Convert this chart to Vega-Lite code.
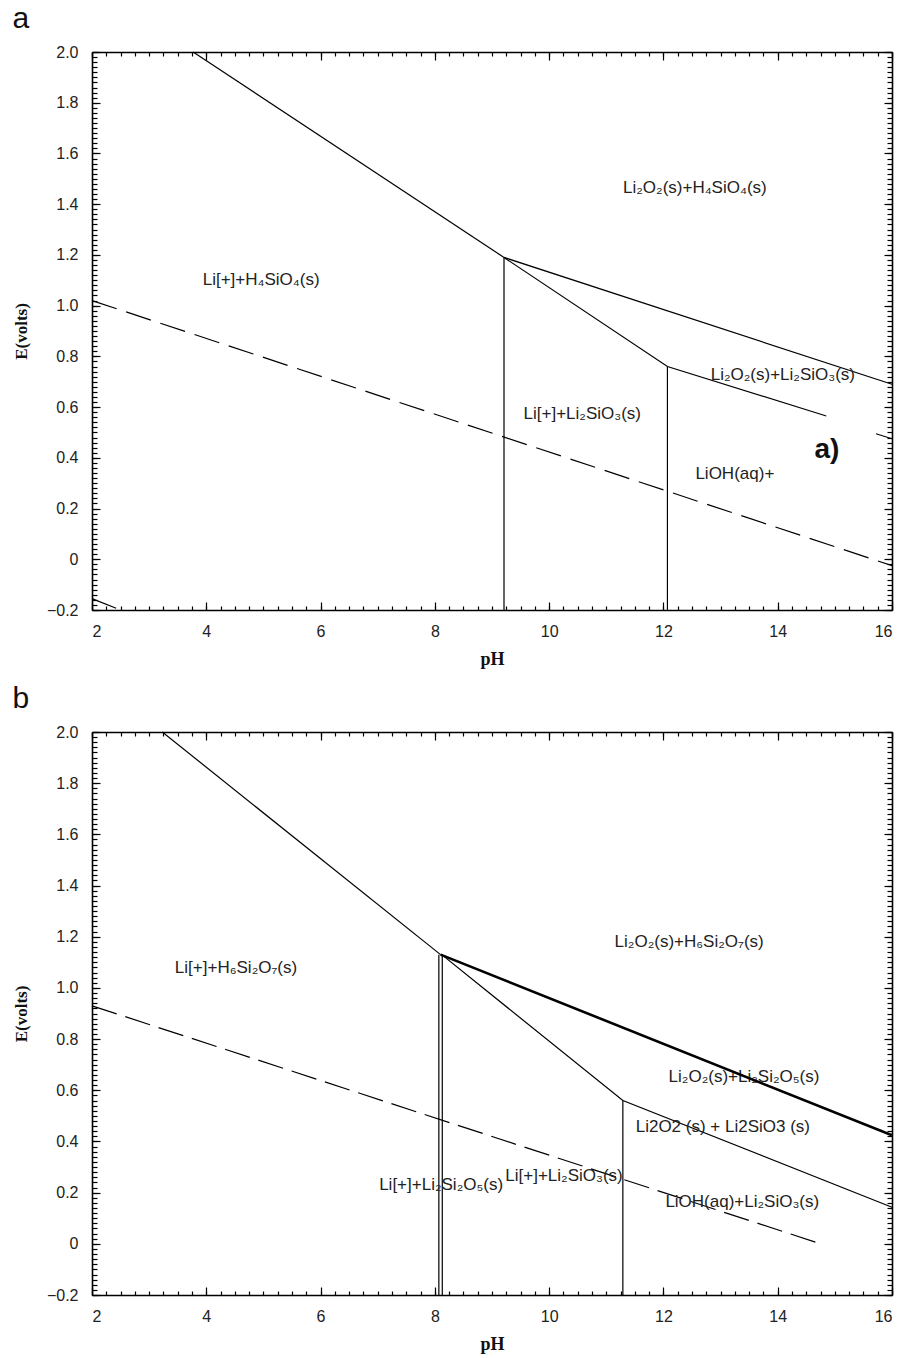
{
  "$schema": "https://vega.github.io/schema/vega-lite/v6.json",
  "background": "white",
  "padding": {"left": 12, "top": 4, "right": 8, "bottom": 4},
  "spacing": 16,
  "config": {
    "view": {"stroke": null},
    "axis": {"labelFont": "Liberation Sans", "labelFontSize": 16, "labelColor": "#222", "tickColor": "#000", "domainColor": "#000", "domainWidth": 1.6, "tickWidth": 1.2, "grid": false, "titleFont": "Liberation Serif", "titleFontWeight": "bold", "titleFontSize": 17, "titleColor": "#111"},
    "title": {"font": "Liberation Sans", "fontSize": 30, "fontWeight": "normal", "color": "#111", "anchor": "start", "frame": "bounds"}
  },
  "datasets": {
    "a_vert": [{"pH": 9.21, "E1": 1.19, "E2": -0.2}, {"pH": 12.07, "E1": 0.76, "E2": -0.2}],
    "a_solid": [
      {"seg": "s1", "pH": 3.77, "E": 2.0}, {"seg": "s1", "pH": 9.21, "E": 1.19},
      {"seg": "s2", "pH": 9.21, "E": 1.19}, {"seg": "s2", "pH": 16, "E": 0.69},
      {"seg": "s3", "pH": 9.21, "E": 1.19}, {"seg": "s3", "pH": 12.07, "E": 0.76}, {"seg": "s3", "pH": 14.85, "E": 0.565}
    ],
    "a_dash": [
      {"seg": "d1", "pH": 2, "E": 1.02}, {"seg": "d1", "pH": 16, "E": -0.025},
      {"seg": "d2", "pH": 2, "E": -0.155}, {"seg": "d2", "pH": 2.5, "E": -0.2},
      {"seg": "d3", "pH": 15.72, "E": 0.495}, {"seg": "d3", "pH": 16, "E": 0.475}
    ],
    "a_labels": [
      {"pH": 12.55, "E": 1.465, "label": "Li₂O₂(s)+H₄SiO₄(s)"},
      {"pH": 4.96, "E": 1.10, "label": "Li[+]+H₄SiO₄(s)"},
      {"pH": 14.09, "E": 0.726, "label": "Li₂O₂(s)+Li₂SiO₃(s)"},
      {"pH": 10.58, "E": 0.572, "label": "Li[+]+Li₂SiO₃(s)"},
      {"pH": 13.25, "E": 0.335, "label": "LiOH(aq)+"}
    ],
    "a_mark": [{"pH": 14.86, "E": 0.43, "label": "a)"}],
    "b_vert": [{"pH": 8.07, "E1": 1.13, "E2": -0.2}, {"pH": 8.13, "E1": 1.13, "E2": -0.2}, {"pH": 11.29, "E1": 0.56, "E2": -0.2}],
    "b_solid": [
      {"seg": "s1", "pH": 3.23, "E": 2.0}, {"seg": "s1", "pH": 8.1, "E": 1.13},
      {"seg": "s3", "pH": 8.12, "E": 1.13}, {"seg": "s3", "pH": 11.29, "E": 0.56}, {"seg": "s3", "pH": 16, "E": 0.143}
    ],
    "b_bold": [{"seg": "b1", "pH": 8.1, "E": 1.13}, {"seg": "b1", "pH": 16, "E": 0.424}],
    "b_dash": [{"seg": "d1", "pH": 2, "E": 0.93}, {"seg": "d1", "pH": 14.75, "E": 0.0}],
    "b_labels": [
      {"pH": 4.52, "E": 1.078, "label": "Li[+]+H₆Si₂O₇(s)"},
      {"pH": 12.45, "E": 1.179, "label": "Li₂O₂(s)+H₆Si₂O₇(s)"},
      {"pH": 13.41, "E": 0.651, "label": "Li₂O₂(s)+Li₂Si₂O₅(s)"},
      {"pH": 13.04, "E": 0.456, "label": "Li2O2 (s) + Li2SiO3 (s)"},
      {"pH": 8.11, "E": 0.229, "label": "Li[+]+Li₂Si₂O₅(s)"},
      {"pH": 10.26, "E": 0.264, "label": "Li[+]+Li₂SiO₃(s)"},
      {"pH": 13.38, "E": 0.163, "label": "LiOH(aq)+Li₂SiO₃(s)"}
    ]
  },
  "vconcat": [
    {
      "width": 800, "height": 558,
      "title": {"text": "a", "offset": 10},
      "resolve": {"axis": {"x": "independent", "y": "independent"}},
      "layer": [
        {
          "data": {"name": "a_vert"},
          "mark": {"type": "rule", "color": "#000", "strokeWidth": 1.2},
          "encoding": {
            "x": {"field": "pH", "type": "quantitative", "scale": {"domain": [2, 16], "nice": false, "zero": false},
              "axis": {"orient": "bottom", "values": [2, 4, 6, 8, 10, 12, 14, 16], "ticks": false, "labelPadding": 13, "domain": true, "title": "pH", "titlePadding": 11, "titleFontSize": 18}},
            "y": {"field": "E1", "type": "quantitative", "scale": {"domain": [-0.2, 2.0], "nice": false, "zero": false},
              "axis": {"orient": "left", "values": [-0.2, 0, 0.2, 0.4, 0.6, 0.8, 1, 1.2, 1.4, 1.6, 1.8, 2], "ticks": false, "labelPadding": 14, "domain": true, "title": "E(volts)", "titlePadding": 16, "labelExpr": "datum.value == 0 ? '0' : format(datum.value, '.1f')"}},
            "y2": {"field": "E2"}
          }
        },
        {
          "data": {"name": "a_solid"},
          "mark": {"type": "line", "color": "#000", "strokeWidth": 1.2},
          "encoding": {
            "x": {"field": "pH", "type": "quantitative", "scale": {"domain": [2, 16], "nice": false, "zero": false},
              "axis": {"orient": "bottom", "values": [2, 4, 6, 8, 10, 12, 14, 16], "tickSize": -8, "labels": false, "domain": false, "title": null}},
            "y": {"field": "E", "type": "quantitative", "scale": {"domain": [-0.2, 2.0], "nice": false, "zero": false},
              "axis": {"orient": "left", "values": [-0.2, 0, 0.2, 0.4, 0.6, 0.8, 1, 1.2, 1.4, 1.6, 1.8, 2], "tickSize": -8, "labels": false, "domain": false, "title": null}},
            "detail": {"field": "seg"}
          }
        },
        {
          "data": {"name": "a_dash"},
          "mark": {"type": "line", "color": "#000", "strokeWidth": 1.2, "strokeDash": [26, 10]},
          "encoding": {
            "x": {"field": "pH", "type": "quantitative", "scale": {"domain": [2, 16], "nice": false, "zero": false},
              "axis": {"orient": "bottom", "values": [2, 2.25, 2.5, 2.75, 3, 3.25, 3.5, 3.75, 4, 4.25, 4.5, 4.75, 5, 5.25, 5.5, 5.75, 6, 6.25, 6.5, 6.75, 7, 7.25, 7.5, 7.75, 8, 8.25, 8.5, 8.75, 9, 9.25, 9.5, 9.75, 10, 10.25, 10.5, 10.75, 11, 11.25, 11.5, 11.75, 12, 12.25, 12.5, 12.75, 13, 13.25, 13.5, 13.75, 14, 14.25, 14.5, 14.75, 15, 15.25, 15.5, 15.75, 16], "tickSize": -4, "labels": false, "domain": false, "title": null}},
            "y": {"field": "E", "type": "quantitative", "scale": {"domain": [-0.2, 2.0], "nice": false, "zero": false},
              "axis": {"orient": "left", "values": [-0.2, -0.18, -0.16, -0.14, -0.12, -0.1, -0.08, -0.06, -0.04, -0.02, 0, 0.02, 0.04, 0.06, 0.08, 0.1, 0.12, 0.14, 0.16, 0.18, 0.2, 0.22, 0.24, 0.26, 0.28, 0.3, 0.32, 0.34, 0.36, 0.38, 0.4, 0.42, 0.44, 0.46, 0.48, 0.5, 0.52, 0.54, 0.56, 0.58, 0.6, 0.62, 0.64, 0.66, 0.68, 0.7, 0.72, 0.74, 0.76, 0.78, 0.8, 0.82, 0.84, 0.86, 0.88, 0.9, 0.92, 0.94, 0.96, 0.98, 1, 1.02, 1.04, 1.06, 1.08, 1.1, 1.12, 1.14, 1.16, 1.18, 1.2, 1.22, 1.24, 1.26, 1.28, 1.3, 1.32, 1.34, 1.36, 1.38, 1.4, 1.42, 1.44, 1.46, 1.48, 1.5, 1.52, 1.54, 1.56, 1.58, 1.6, 1.62, 1.64, 1.66, 1.68, 1.7, 1.72, 1.74, 1.76, 1.78, 1.8, 1.82, 1.84, 1.86, 1.88, 1.9, 1.92, 1.94, 1.96, 1.98, 2], "tickSize": -5, "labels": false, "domain": false, "title": null}},
            "detail": {"field": "seg"}
          }
        },
        {
          "data": {"name": "a_labels"},
          "mark": {"type": "text", "font": "Liberation Sans", "fontSize": 17, "color": "#222"},
          "encoding": {
            "x": {"field": "pH", "type": "quantitative", "scale": {"domain": [2, 16], "nice": false, "zero": false},
              "axis": {"orient": "top", "values": [2, 4, 6, 8, 10, 12, 14, 16], "tickSize": -8, "labels": false, "domain": true, "title": null}},
            "y": {"field": "E", "type": "quantitative", "scale": {"domain": [-0.2, 2.0], "nice": false, "zero": false},
              "axis": {"orient": "right", "values": [-0.2, 0, 0.2, 0.4, 0.6, 0.8, 1, 1.2, 1.4, 1.6, 1.8, 2], "tickSize": -8, "labels": false, "domain": true, "title": null}},
            "text": {"field": "label"}
          }
        },
        {
          "data": {"name": "a_mark"},
          "mark": {"type": "text", "font": "Liberation Sans", "fontSize": 28, "fontWeight": "bold", "color": "#111"},
          "encoding": {
            "x": {"field": "pH", "type": "quantitative", "scale": {"domain": [2, 16], "nice": false, "zero": false},
              "axis": {"orient": "top", "values": [2, 2.25, 2.5, 2.75, 3, 3.25, 3.5, 3.75, 4, 4.25, 4.5, 4.75, 5, 5.25, 5.5, 5.75, 6, 6.25, 6.5, 6.75, 7, 7.25, 7.5, 7.75, 8, 8.25, 8.5, 8.75, 9, 9.25, 9.5, 9.75, 10, 10.25, 10.5, 10.75, 11, 11.25, 11.5, 11.75, 12, 12.25, 12.5, 12.75, 13, 13.25, 13.5, 13.75, 14, 14.25, 14.5, 14.75, 15, 15.25, 15.5, 15.75, 16], "tickSize": -4, "labels": false, "domain": false, "title": null}},
            "y": {"field": "E", "type": "quantitative", "scale": {"domain": [-0.2, 2.0], "nice": false, "zero": false},
              "axis": {"orient": "right", "values": [-0.2, -0.18, -0.16, -0.14, -0.12, -0.1, -0.08, -0.06, -0.04, -0.02, 0, 0.02, 0.04, 0.06, 0.08, 0.1, 0.12, 0.14, 0.16, 0.18, 0.2, 0.22, 0.24, 0.26, 0.28, 0.3, 0.32, 0.34, 0.36, 0.38, 0.4, 0.42, 0.44, 0.46, 0.48, 0.5, 0.52, 0.54, 0.56, 0.58, 0.6, 0.62, 0.64, 0.66, 0.68, 0.7, 0.72, 0.74, 0.76, 0.78, 0.8, 0.82, 0.84, 0.86, 0.88, 0.9, 0.92, 0.94, 0.96, 0.98, 1, 1.02, 1.04, 1.06, 1.08, 1.1, 1.12, 1.14, 1.16, 1.18, 1.2, 1.22, 1.24, 1.26, 1.28, 1.3, 1.32, 1.34, 1.36, 1.38, 1.4, 1.42, 1.44, 1.46, 1.48, 1.5, 1.52, 1.54, 1.56, 1.58, 1.6, 1.62, 1.64, 1.66, 1.68, 1.7, 1.72, 1.74, 1.76, 1.78, 1.8, 1.82, 1.84, 1.86, 1.88, 1.9, 1.92, 1.94, 1.96, 1.98, 2], "tickSize": -5, "labels": false, "domain": false, "title": null}},
            "text": {"field": "label"}
          }
        }
      ]
    },
    {
      "width": 800, "height": 563,
      "title": {"text": "b", "offset": 10},
      "resolve": {"axis": {"x": "independent", "y": "independent"}},
      "layer": [
        {
          "data": {"name": "b_vert"},
          "mark": {"type": "rule", "color": "#000", "strokeWidth": 1.2},
          "encoding": {
            "x": {"field": "pH", "type": "quantitative", "scale": {"domain": [2, 16], "nice": false, "zero": false},
              "axis": {"orient": "bottom", "values": [2, 4, 6, 8, 10, 12, 14, 16], "ticks": false, "labelPadding": 13, "domain": true, "title": "pH", "titlePadding": 11, "titleFontSize": 18}},
            "y": {"field": "E1", "type": "quantitative", "scale": {"domain": [-0.2, 2.0], "nice": false, "zero": false},
              "axis": {"orient": "left", "values": [-0.2, 0, 0.2, 0.4, 0.6, 0.8, 1, 1.2, 1.4, 1.6, 1.8, 2], "ticks": false, "labelPadding": 14, "domain": true, "title": "E(volts)", "titlePadding": 16, "labelExpr": "datum.value == 0 ? '0' : format(datum.value, '.1f')"}},
            "y2": {"field": "E2"}
          }
        },
        {
          "data": {"name": "b_solid"},
          "mark": {"type": "line", "color": "#000", "strokeWidth": 1.2},
          "encoding": {
            "x": {"field": "pH", "type": "quantitative", "scale": {"domain": [2, 16], "nice": false, "zero": false},
              "axis": {"orient": "bottom", "values": [2, 4, 6, 8, 10, 12, 14, 16], "tickSize": -8, "labels": false, "domain": false, "title": null}},
            "y": {"field": "E", "type": "quantitative", "scale": {"domain": [-0.2, 2.0], "nice": false, "zero": false},
              "axis": {"orient": "left", "values": [-0.2, 0, 0.2, 0.4, 0.6, 0.8, 1, 1.2, 1.4, 1.6, 1.8, 2], "tickSize": -8, "labels": false, "domain": false, "title": null}},
            "detail": {"field": "seg"}
          }
        },
        {
          "data": {"name": "b_dash"},
          "mark": {"type": "line", "color": "#000", "strokeWidth": 1.2, "strokeDash": [26, 9]},
          "encoding": {
            "x": {"field": "pH", "type": "quantitative", "scale": {"domain": [2, 16], "nice": false, "zero": false},
              "axis": {"orient": "bottom", "values": [2, 2.25, 2.5, 2.75, 3, 3.25, 3.5, 3.75, 4, 4.25, 4.5, 4.75, 5, 5.25, 5.5, 5.75, 6, 6.25, 6.5, 6.75, 7, 7.25, 7.5, 7.75, 8, 8.25, 8.5, 8.75, 9, 9.25, 9.5, 9.75, 10, 10.25, 10.5, 10.75, 11, 11.25, 11.5, 11.75, 12, 12.25, 12.5, 12.75, 13, 13.25, 13.5, 13.75, 14, 14.25, 14.5, 14.75, 15, 15.25, 15.5, 15.75, 16], "tickSize": -4, "labels": false, "domain": false, "title": null}},
            "y": {"field": "E", "type": "quantitative", "scale": {"domain": [-0.2, 2.0], "nice": false, "zero": false},
              "axis": {"orient": "left", "values": [-0.2, -0.18, -0.16, -0.14, -0.12, -0.1, -0.08, -0.06, -0.04, -0.02, 0, 0.02, 0.04, 0.06, 0.08, 0.1, 0.12, 0.14, 0.16, 0.18, 0.2, 0.22, 0.24, 0.26, 0.28, 0.3, 0.32, 0.34, 0.36, 0.38, 0.4, 0.42, 0.44, 0.46, 0.48, 0.5, 0.52, 0.54, 0.56, 0.58, 0.6, 0.62, 0.64, 0.66, 0.68, 0.7, 0.72, 0.74, 0.76, 0.78, 0.8, 0.82, 0.84, 0.86, 0.88, 0.9, 0.92, 0.94, 0.96, 0.98, 1, 1.02, 1.04, 1.06, 1.08, 1.1, 1.12, 1.14, 1.16, 1.18, 1.2, 1.22, 1.24, 1.26, 1.28, 1.3, 1.32, 1.34, 1.36, 1.38, 1.4, 1.42, 1.44, 1.46, 1.48, 1.5, 1.52, 1.54, 1.56, 1.58, 1.6, 1.62, 1.64, 1.66, 1.68, 1.7, 1.72, 1.74, 1.76, 1.78, 1.8, 1.82, 1.84, 1.86, 1.88, 1.9, 1.92, 1.94, 1.96, 1.98, 2], "tickSize": -5, "labels": false, "domain": false, "title": null}},
            "detail": {"field": "seg"}
          }
        },
        {
          "data": {"name": "b_labels"},
          "mark": {"type": "text", "font": "Liberation Sans", "fontSize": 17, "color": "#222"},
          "encoding": {
            "x": {"field": "pH", "type": "quantitative", "scale": {"domain": [2, 16], "nice": false, "zero": false},
              "axis": {"orient": "top", "values": [2, 4, 6, 8, 10, 12, 14, 16], "tickSize": -8, "labels": false, "domain": true, "title": null}},
            "y": {"field": "E", "type": "quantitative", "scale": {"domain": [-0.2, 2.0], "nice": false, "zero": false},
              "axis": {"orient": "right", "values": [-0.2, 0, 0.2, 0.4, 0.6, 0.8, 1, 1.2, 1.4, 1.6, 1.8, 2], "tickSize": -8, "labels": false, "domain": true, "title": null}},
            "text": {"field": "label"}
          }
        },
        {
          "data": {"name": "b_bold"},
          "mark": {"type": "line", "color": "#000", "strokeWidth": 2.6},
          "encoding": {
            "x": {"field": "pH", "type": "quantitative", "scale": {"domain": [2, 16], "nice": false, "zero": false},
              "axis": {"orient": "top", "values": [2, 2.25, 2.5, 2.75, 3, 3.25, 3.5, 3.75, 4, 4.25, 4.5, 4.75, 5, 5.25, 5.5, 5.75, 6, 6.25, 6.5, 6.75, 7, 7.25, 7.5, 7.75, 8, 8.25, 8.5, 8.75, 9, 9.25, 9.5, 9.75, 10, 10.25, 10.5, 10.75, 11, 11.25, 11.5, 11.75, 12, 12.25, 12.5, 12.75, 13, 13.25, 13.5, 13.75, 14, 14.25, 14.5, 14.75, 15, 15.25, 15.5, 15.75, 16], "tickSize": -4, "labels": false, "domain": false, "title": null}},
            "y": {"field": "E", "type": "quantitative", "scale": {"domain": [-0.2, 2.0], "nice": false, "zero": false},
              "axis": {"orient": "right", "values": [-0.2, -0.18, -0.16, -0.14, -0.12, -0.1, -0.08, -0.06, -0.04, -0.02, 0, 0.02, 0.04, 0.06, 0.08, 0.1, 0.12, 0.14, 0.16, 0.18, 0.2, 0.22, 0.24, 0.26, 0.28, 0.3, 0.32, 0.34, 0.36, 0.38, 0.4, 0.42, 0.44, 0.46, 0.48, 0.5, 0.52, 0.54, 0.56, 0.58, 0.6, 0.62, 0.64, 0.66, 0.68, 0.7, 0.72, 0.74, 0.76, 0.78, 0.8, 0.82, 0.84, 0.86, 0.88, 0.9, 0.92, 0.94, 0.96, 0.98, 1, 1.02, 1.04, 1.06, 1.08, 1.1, 1.12, 1.14, 1.16, 1.18, 1.2, 1.22, 1.24, 1.26, 1.28, 1.3, 1.32, 1.34, 1.36, 1.38, 1.4, 1.42, 1.44, 1.46, 1.48, 1.5, 1.52, 1.54, 1.56, 1.58, 1.6, 1.62, 1.64, 1.66, 1.68, 1.7, 1.72, 1.74, 1.76, 1.78, 1.8, 1.82, 1.84, 1.86, 1.88, 1.9, 1.92, 1.94, 1.96, 1.98, 2], "tickSize": -5, "labels": false, "domain": false, "title": null}},
            "detail": {"field": "seg"}
          }
        }
      ]
    }
  ]
}
